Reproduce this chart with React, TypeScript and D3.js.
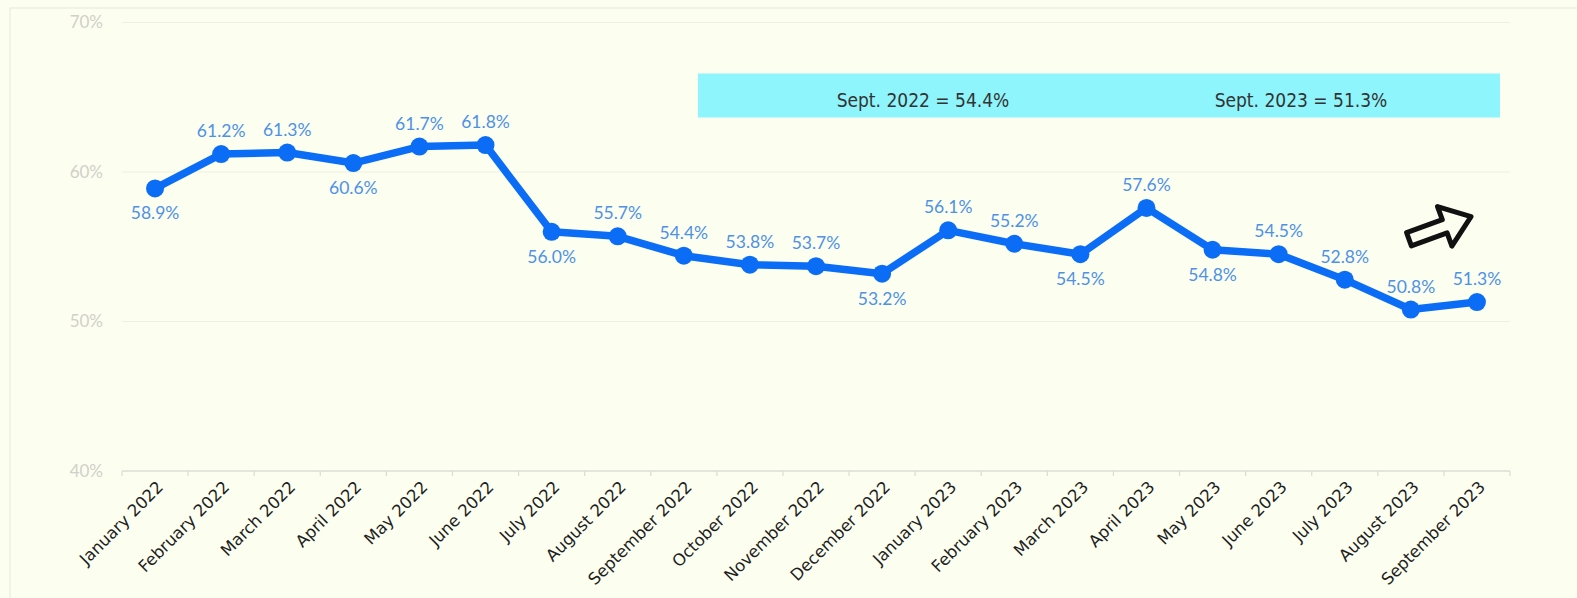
import React from "react";
import * as d3 from "d3";

const months = [
  "January 2022", "February 2022", "March 2022", "April 2022", "May 2022", "June 2022",
  "July 2022", "August 2022", "September 2022", "October 2022", "November 2022", "December 2022",
  "January 2023", "February 2023", "March 2023", "April 2023", "May 2023", "June 2023",
  "July 2023", "August 2023", "September 2023",
];
const values = [58.9, 61.2, 61.3, 60.6, 61.7, 61.8, 56.0, 55.7, 54.4, 53.8, 53.7, 53.2, 56.1, 55.2, 54.5, 57.6, 54.8, 54.5, 52.8, 50.8, 51.3];
const labelSide = ["b", "a", "a", "b", "a", "a", "b", "a", "a", "a", "a", "b", "a", "a", "b", "a", "b", "a", "a", "a", "a"];
const yTicks = [40, 50, 60, 70];
const notes = ["Sept. 2022 = 54.4%", "Sept. 2023 = 51.3%"];

const W = 1577, H = 598;
const L = 122, R = 1510, T = 22.5, B = 471;

export default function App() {
  const x = d3.scaleBand<string>().domain(months).range([L, R]).padding(0);
  const y = d3.scaleLinear().domain([40, 70]).range([B, T]);
  const cx = (m: string) => (x(m) as number) + x.bandwidth() / 2;
  const line = d3.line<number>().x((_, i) => cx(months[i])).y((v) => y(v));
  const boundaries = months.map((m) => x(m) as number).concat([R]);
  const font = "Lato, 'Open Sans', sans-serif";
  const condensed = "'DejaVu Sans Condensed', 'Liberation Sans Narrow', sans-serif";

  // hollow block arrow in local coords pointing right
  const arrow = "M-33,-7 L5,-7 L5,-21 L33,0 L5,21 L5,7 L-33,7 Z";

  return (
    <svg width={W} height={H} style={{ position: "absolute", left: 0, top: 0 }}>
      <rect x={0} y={0} width={W} height={H} fill="#fcfef0" />
      <rect x={10} y={8} width={W} height={H} fill="none" stroke="#eeefe4" strokeWidth={1.5} />
      {yTicks.map((t) => (
        <g key={t}>
          {t !== 40 && <line x1={L} x2={R} y1={y(t)} y2={y(t)} stroke="#eef0e2" strokeWidth={1} />}
          <text x={103} y={y(t)} dy="0.35em" textAnchor="end" fontFamily={font} fontSize={17} fill="#d0d1c9">
            {t}%
          </text>
        </g>
      ))}
      <line x1={L} x2={R} y1={B} y2={B} stroke="#dcdcd4" strokeWidth={1.5} />
      {boundaries.map((b, i) => (
        <line key={i} x1={b} x2={b} y1={B} y2={B + 5} stroke="#dcdcd4" strokeWidth={1.2} />
      ))}
      {months.map((m) => (
        <text
          key={m}
          transform={`translate(${cx(m) + 1},${B + 9}) rotate(-45)`}
          textAnchor="end"
          dy="0.7em"
          fontFamily="'DejaVu Sans', sans-serif"
          fontSize={16.5}
          fill="#1e1e1e"
        >
          {m}
        </text>
      ))}
      <rect x={698} y={73.5} width={802} height={44} fill="#8ff5fc" />
      <text x={923} y={100} dy="0.35em" textAnchor="middle" fontFamily={condensed} fontSize={19} fill="#333">
        {notes[0]}
      </text>
      <text x={1301} y={100} dy="0.35em" textAnchor="middle" fontFamily={condensed} fontSize={19} fill="#333">
        {notes[1]}
      </text>
      <path d={line(values) as string} fill="none" stroke="#0b6df6" strokeWidth={7.5} strokeLinejoin="round" />
      {values.map((v, i) => (
        <circle key={i} cx={cx(months[i])} cy={y(v)} r={9} fill="#0b6df6" />
      ))}
      {values.map((v, i) => (
        <text
          key={"l" + i}
          x={cx(months[i])}
          y={labelSide[i] === "a" ? y(v) - 17 : y(v) + 31}
          textAnchor="middle"
          fontFamily={font}
          fontSize={17.5}
          fill="#4e91e6"
        >
          {v.toFixed(1)}%
        </text>
      ))}
      <path d={arrow} transform="translate(1440,228) rotate(-20)" fill="none" stroke="#111" strokeWidth={5} strokeLinejoin="round" />
    </svg>
  );
}
